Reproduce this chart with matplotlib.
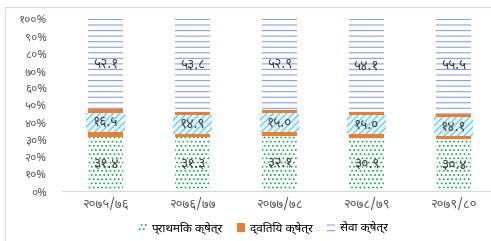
import matplotlib
matplotlib.use("Agg")
import matplotlib.pyplot as plt
from matplotlib.patches import Rectangle
from matplotlib.ticker import FixedLocator, FixedFormatter
import numpy as np

# data (Devanagari fiscal years, share of GDP by sector, %)
years = ["२०७५/७६", "२०७६/७७", "२०७७/७८", "२०७८/७९", "२०७९/८०"]
primary = [31.4, 31.3, 32.1, 30.9, 30.4]
secondary = [16.5, 14.9, 15.0, 15.0, 14.1]
services = [52.1, 53.8, 52.9, 54.1, 55.5]
series_names = ["प्राथमिक क्षेत्र", "द्वितिय क्षेत्र", "सेवा क्षेत्र"]
ytick_vals = [0, 10, 20, 30, 40, 50, 60, 70, 80, 90, 100]

DEV_DIGITS = str.maketrans("0123456789", "०१२३४५६७८९")


def dev(s) -> str:
    return str(s).translate(DEV_DIGITS)


plt.rcParams["font.family"] = ["Noto Sans Devanagari", "Yantramanav", "DejaVu Sans"]
plt.rcParams["hatch.linewidth"] = 0.8

fig = plt.figure(figsize=(4.91, 2.41), dpi=100)
ax = fig.add_axes([62 / 491, 50 / 241, 435 / 491, 172 / 241])

x = np.arange(len(years))
w = 0.4
primary = np.array(primary)
secondary = np.array(secondary)
services = np.array(services)

b1 = ax.bar(x, primary, w, facecolor="white", edgecolor="#22b155", linewidth=0,
            hatch="....", label=series_names[0])
b2 = ax.bar(x, secondary, w, bottom=primary, color="#ed7d31", linewidth=0,
            label=series_names[1])
b3 = ax.bar(x, services, w, bottom=primary + secondary, facecolor="white",
            edgecolor="#86a2e6", linewidth=0, hatch="---", label=series_names[2])

label_kw = dict(ha="center", va="center", fontsize=10, color="#404040", zorder=5)
for i in x:
    ax.text(i, primary[i] / 2, dev(f"{primary[i]:.1f}"), **label_kw)
    # hatched label box that sits over the secondary segment
    mid = primary[i] + secondary[i] / 2
    ax.add_patch(Rectangle((i - 0.225, mid - 5.5), 0.45, 11.0, facecolor="#e6f6fd",
                           edgecolor="#55c6ef", linewidth=0, hatch="/////", zorder=4))
    ax.text(i, mid, dev(f"{secondary[i]:.1f}"), **label_kw)
    ax.text(i, primary[i] + secondary[i] + services[i] / 2, dev(f"{services[i]:.1f}"),
            **label_kw)

ax.set_xlim(-0.5, 4.5)
ax.set_ylim(0, 100)
ax.set_xticks(x)
ax.set_xticklabels(years, fontsize=9.5, color="#595959")
ax.yaxis.set_major_locator(FixedLocator(ytick_vals))
ax.yaxis.set_major_formatter(FixedFormatter([dev(f"{v}%") for v in ytick_vals]))
ax.tick_params(axis="y", length=0, pad=11, labelsize=8.5, labelcolor="#595959")
ax.tick_params(axis="x", length=0, pad=5)
for side in ("top", "right", "left"):
    ax.spines[side].set_visible(False)
ax.spines["bottom"].set_color("#d9d9d9")

ax.legend(handles=[b1, b2, b3], loc="center", bbox_to_anchor=(263 / 491, 13 / 241),
          bbox_transform=fig.transFigure, ncol=3, frameon=False, fontsize=8.5,
          handlelength=0.7, handleheight=0.7, handletextpad=0.4, columnspacing=1.2)

# chart-area border
fig.patches.append(Rectangle((5 / 491, -0.1), 1.0, 1.1 - 7 / 241, transform=fig.transFigure,
                             fill=False, edgecolor="#d9d9d9", linewidth=0.8))

fig.savefig("out.png", dpi=100)
